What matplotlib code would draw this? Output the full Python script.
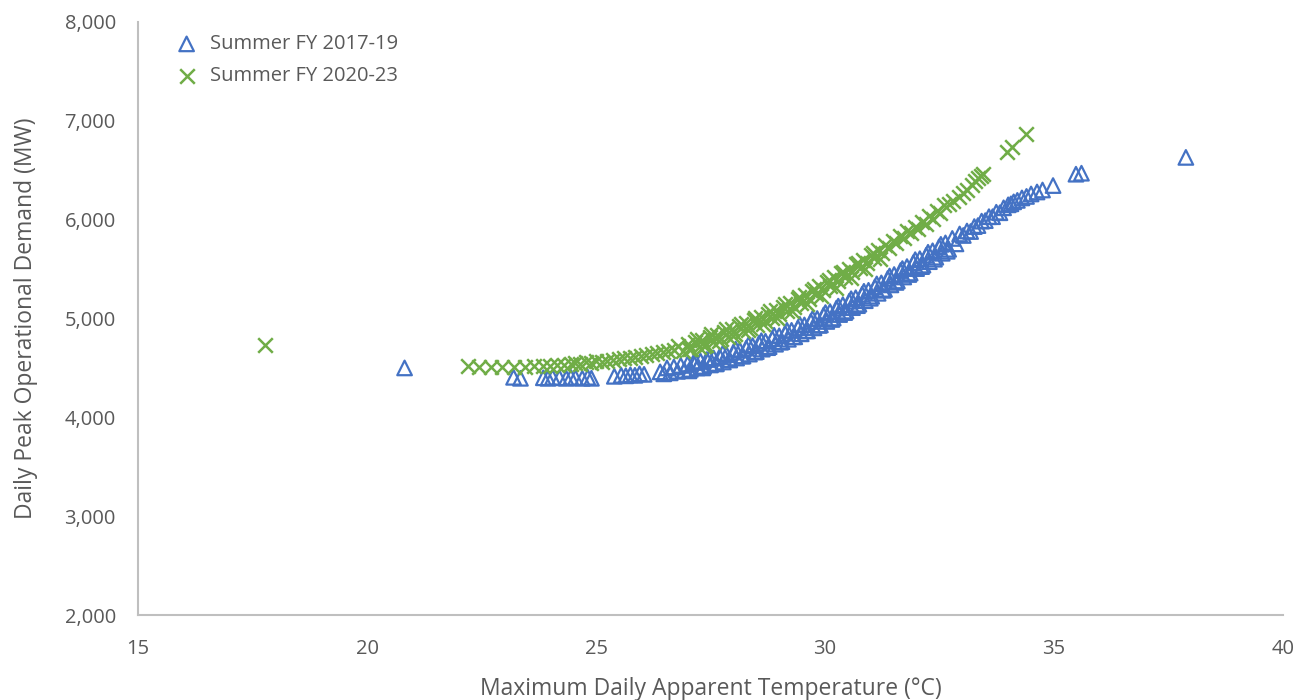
import matplotlib
matplotlib.use("Agg")
import matplotlib.pyplot as plt
from matplotlib.ticker import FuncFormatter

# Summer FY 2017-19 (blue triangles): max apparent temperature (°C), peak demand (MW)
temp_1719 = [
    20.82, 23.20, 23.35, 23.85, 23.95, 24.05, 24.20, 24.35, 24.45, 24.55,
    24.70, 24.82, 24.90, 25.40, 25.55, 25.65, 25.75, 25.85, 25.95, 26.05,
    26.40, 26.48, 26.55, 26.62, 26.70, 26.78, 26.85, 26.93, 27.00, 27.06,
    27.13, 27.21, 27.28, 27.35, 27.42, 27.50, 27.57, 27.63, 27.70, 27.78,
    27.85, 27.92, 28.00, 28.07, 28.14, 28.21, 28.28, 28.35, 28.42, 28.50,
    28.56, 28.63, 28.70, 28.78, 28.85, 28.92, 29.00, 29.06, 29.13, 29.20,
    29.27, 29.34, 29.41, 29.48, 29.55, 29.62, 29.69, 29.76, 29.83, 29.90,
    29.97, 30.04, 30.11, 30.18, 30.25, 30.32, 30.39, 30.46, 30.53, 30.60,
    30.67, 30.74, 30.81, 30.88, 30.95, 31.02, 31.09, 31.16, 31.23, 31.30,
    31.37, 31.44, 31.51, 31.58, 31.65, 31.72, 31.79, 31.86, 31.93, 32.00,
    32.07, 32.14, 32.21, 32.28, 32.35, 32.42, 32.49, 32.56, 32.63, 32.70,
    32.78, 32.86, 32.94, 33.02, 33.10, 33.18, 33.26, 33.34, 33.42, 33.50,
    33.58, 33.66, 33.74, 33.82, 33.90, 34.00, 34.06, 34.12, 34.20, 34.30,
    34.40, 34.50, 34.63, 34.75, 34.98, 35.48, 35.60, 37.88,
    27.03, 27.18, 27.33, 27.48, 27.62, 27.77, 27.91, 28.05, 28.19, 28.33,
    28.47, 28.61, 28.75, 28.89, 29.03, 29.17, 29.31, 29.45, 29.59, 29.73,
    29.87, 30.01, 30.15, 30.29, 30.43, 30.57, 30.71, 30.85, 30.99, 31.13,
    31.27, 31.41, 31.55, 31.69, 31.83, 31.97, 32.11, 32.25, 32.39, 32.53,
    32.67,
]
demand_1719 = [
    4500, 4405, 4395, 4400, 4395, 4405, 4400, 4395, 4405, 4400,
    4395, 4405, 4395, 4415, 4425, 4420, 4430, 4425, 4440, 4435,
    4460, 4440, 4500, 4450, 4510, 4465, 4525, 4475, 4540, 4485,
    4555, 4500, 4570, 4515, 4585, 4530, 4600, 4545, 4615, 4560,
    4635, 4580, 4660, 4600, 4680, 4620, 4700, 4640, 4725, 4665,
    4750, 4690, 4770, 4715, 4795, 4740, 4825, 4765, 4850, 4790,
    4880, 4815, 4905, 4845, 4935, 4875, 4970, 4905, 5000, 4935,
    5035, 4970, 5070, 5005, 5105, 5040, 5140, 5075, 5175, 5110,
    5210, 5145, 5245, 5180, 5285, 5225, 5320, 5255, 5360, 5295,
    5405, 5340, 5445, 5380, 5485, 5420, 5525, 5460, 5565, 5505,
    5605, 5540, 5640, 5575, 5685, 5620, 5725, 5660, 5765, 5700,
    5810, 5755, 5855, 5840, 5885, 5880, 5930, 5940, 5985, 5990,
    6030, 6030, 6075, 6070, 6120, 6150, 6160, 6180, 6195, 6220,
    6235, 6260, 6280, 6300, 6345, 6460, 6470, 6630,
    4470, 4560, 4500, 4600, 4540, 4650, 4585, 4690, 4620, 4735,
    4660, 4775, 4705, 4830, 4760, 4880, 4815, 4940, 4875, 5000,
    4930, 5060, 4990, 5125, 5060, 5200, 5130, 5275, 5205, 5350,
    5285, 5430, 5365, 5505, 5445, 5595, 5525, 5670, 5600, 5750,
    5680,
]

# Summer FY 2020-23 (green crosses)
temp_2023 = [
    17.78, 22.20, 22.45, 22.70, 22.95, 23.20, 23.45, 23.65, 23.85, 24.00,
    24.15, 24.30, 24.45, 24.55, 24.65, 24.78, 24.90, 25.00, 25.12, 25.25,
    25.38, 25.50, 25.62, 25.74, 25.86, 25.98, 26.10, 26.22, 26.34, 26.46,
    26.58, 26.70, 26.80, 26.90, 27.00, 27.08, 27.16, 27.24, 27.32, 27.40,
    27.48, 27.56, 27.64, 27.72, 27.80, 27.88, 27.96, 28.04, 28.12, 28.20,
    28.28, 28.36, 28.44, 28.52, 28.60, 28.68, 28.76, 28.84, 28.92, 29.00,
    29.08, 29.16, 29.24, 29.32, 29.40, 29.48, 29.56, 29.64, 29.72, 29.80,
    29.88, 29.96, 30.04, 30.12, 30.20, 30.28, 30.36, 30.44, 30.52, 30.60,
    30.68, 30.76, 30.84, 30.92, 31.00, 31.08, 31.16, 31.24, 31.32, 31.40,
    31.48, 31.56, 31.64, 31.72, 31.80, 31.88, 31.96, 32.04, 32.12, 32.20,
    32.28, 32.36, 32.44, 32.52, 32.60, 32.70, 32.80, 32.92, 33.02, 33.10,
    33.20, 33.28, 33.34, 33.40, 33.46, 33.97, 34.08, 34.40,
    27.04, 27.20, 27.36, 27.52, 27.68, 27.84, 28.00, 28.16, 28.32, 28.48,
    28.64, 28.80, 28.96, 29.12, 29.28, 29.44, 29.60, 29.76, 29.92, 30.08,
    30.24, 30.40, 30.56, 30.72, 30.88, 31.04, 31.20,
]
demand_2023 = [
    4730, 4515, 4510, 4510, 4505, 4510, 4510, 4515, 4520, 4515,
    4525, 4530, 4535, 4545, 4540, 4555, 4550, 4565, 4560, 4575,
    4585, 4590, 4600, 4605, 4615, 4620, 4630, 4640, 4650, 4660,
    4670, 4680, 4725, 4675, 4745, 4695, 4765, 4715, 4785, 4735,
    4810, 4765, 4835, 4790, 4865, 4815, 4890, 4845, 4920, 4875,
    4950, 4905, 4980, 4935, 5015, 4970, 5050, 5005, 5085, 5045,
    5120, 5080, 5160, 5120, 5200, 5160, 5240, 5200, 5280, 5245,
    5325, 5290, 5370, 5330, 5415, 5375, 5460, 5420, 5505, 5470,
    5550, 5515, 5595, 5565, 5645, 5610, 5690, 5660, 5740, 5710,
    5785, 5760, 5835, 5810, 5885, 5860, 5930, 5905, 5980, 5960,
    6035, 6010, 6090, 6065, 6145, 6155, 6190, 6230, 6265, 6300,
    6350, 6390, 6420, 6440, 6460, 6680, 6740, 6870,
    4690, 4790, 4725, 4840, 4770, 4895, 4825, 4945, 4880, 5010,
    4940, 5080, 5010, 5150, 5075, 5220, 5150, 5300, 5230, 5385,
    5310, 5470, 5410, 5560, 5500, 5665, 5600,
]

BLUE = "#4472C4"
GREEN = "#70AD47"
TEXT = "#595959"
AXIS = "#BFBFBF"

plt.rcParams["font.family"] = ["Open Sans", "DejaVu Sans"]

fig = plt.figure(figsize=(12.95, 7.0), dpi=100)
ax = fig.add_axes([0.1066, 0.1214, 0.8841, 0.8472])

ax.scatter(temp_1719, demand_1719, marker="^", s=110, facecolors="none",
           edgecolors=BLUE, linewidths=1.6, label="Summer FY 2017-19")
ax.scatter(temp_2023, demand_2023, marker="x", s=110, color=GREEN,
           linewidths=1.8, label="Summer FY 2020-23")

ax.set_xlim(15, 40)
ax.set_ylim(2000, 8000)
ax.set_xticks(range(15, 41, 5))
ax.set_yticks(range(2000, 8001, 1000))
ax.yaxis.set_major_formatter(FuncFormatter(lambda v, p: f"{int(v):,}"))
ax.tick_params(length=0, labelsize=14.5, labelcolor=TEXT)
ax.tick_params(axis="y", pad=16)
ax.tick_params(axis="x", pad=17)

for side in ("top", "right"):
    ax.spines[side].set_visible(False)
for side in ("left", "bottom"):
    ax.spines[side].set_color(AXIS)
    ax.spines[side].set_linewidth(1.5)

ax.set_xlabel("Maximum Daily Apparent Temperature (°C)", fontsize=16.5,
              color=TEXT, labelpad=13)
ax.set_ylabel("Daily Peak Operational Demand (MW)", fontsize=16.5,
              color=TEXT, labelpad=19)

leg = ax.legend(loc="upper left", bbox_to_anchor=(0.009, 1.01), frameon=False,
                fontsize=14.5, handletextpad=0.15, labelspacing=0.6,
                scatterpoints=1)
for t in leg.get_texts():
    t.set_color(TEXT)

fig.savefig("out.png", dpi=100)
